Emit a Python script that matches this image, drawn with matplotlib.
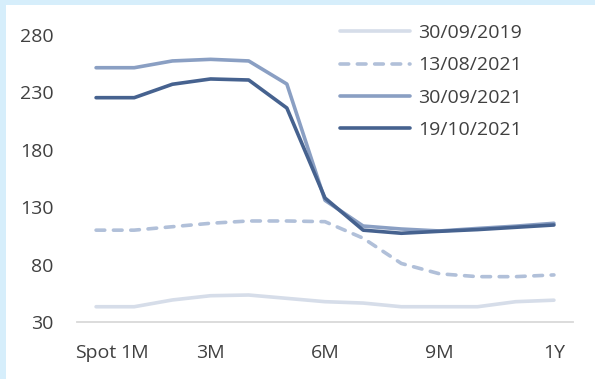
import matplotlib

matplotlib.use('Agg')

import matplotlib.pyplot as plt
from matplotlib.patches import Rectangle

# tenor buckets: spot, then monthly out to one year
tenors = ['Spot', '1M', '', '3M', '', '', '6M', '', '', '9M', '', '', '1Y']

curve_2019_09_30 = [43.3, 43.3, 49.2, 52.9, 53.5, 50.6, 47.7, 46.5, 43.3,
                    43.3, 43.3, 47.7, 49.0]
curve_2021_08_13 = [110.0, 110.0, 113.0, 116.0, 118.0, 118.0, 117.4, 103.0,
                    81.0, 72.0, 69.5, 69.5, 71.0]
curve_2021_09_30 = [251.5, 251.5, 257.4, 258.8, 257.4, 237.3, 136.0, 113.6,
                    111.0, 109.3, 111.5, 113.5, 116.0]
curve_2021_10_19 = [225.4, 225.4, 237.1, 241.7, 240.8, 216.4, 138.0, 110.0,
                    107.3, 109.0, 110.5, 112.5, 114.5]

series = [
    ('30/09/2019', curve_2019_09_30, '#d6dde9', '-'),
    ('13/08/2021', curve_2021_08_13, '#b1c0d9', (0, (2.4, 2.4))),
    ('30/09/2021', curve_2021_09_30, '#8a9fc3', '-'),
    ('19/10/2021', curve_2021_10_19, '#46628f', '-'),
]

W, H = 595, 379
plt.rcParams['font.family'] = ['Open Sans', 'DejaVu Sans']

fig = plt.figure(figsize=(W / 100, H / 100), dpi=100, facecolor='#d6eefb')
fig.patches.append(Rectangle((6 / W, 0), 1, (H - 5) / H,
                             transform=fig.transFigure, facecolor='white',
                             edgecolor='none', zorder=-10))

ax = fig.add_axes([77 / W, (H - 322) / H, (573 - 77) / W, (322 - 35) / H])
ax.set_facecolor('none')
ax.set_zorder(1)

x = range(len(tenors))
for name, vals, color, ls in series:
    ax.plot(x, vals, color=color, lw=2.6, ls=ls, label=name,
            solid_capstyle='round', dash_capstyle='round',
            solid_joinstyle='round', clip_on=False)

ax.set_xlim(-0.5, len(tenors) - 0.5)
ax.set_ylim(30, 280)
ax.set_yticks(range(30, 281, 50))
ax.set_xticks(list(x))
ax.set_xticklabels(tenors)

for side in ['top', 'right', 'left']:
    ax.spines[side].set_visible(False)
ax.spines['bottom'].set_color('#d9d9d9')
ax.spines['bottom'].set_linewidth(1.3)

ax.tick_params(axis='both', length=0, labelsize=14, colors='#404040')
ax.tick_params(axis='y', pad=17)
ax.tick_params(axis='x', pad=16)

leg = fig.legend(loc='upper left', bbox_to_anchor=(340 / W, 1 - 24 / H),
                 frameon=False, fontsize=14, handlelength=3.6,
                 handletextpad=0.4, labelspacing=0.74, borderpad=0,
                 borderaxespad=0, labelcolor='#404040')
leg.set_zorder(2)

fig.savefig('out.png', dpi=100, facecolor=fig.get_facecolor())
